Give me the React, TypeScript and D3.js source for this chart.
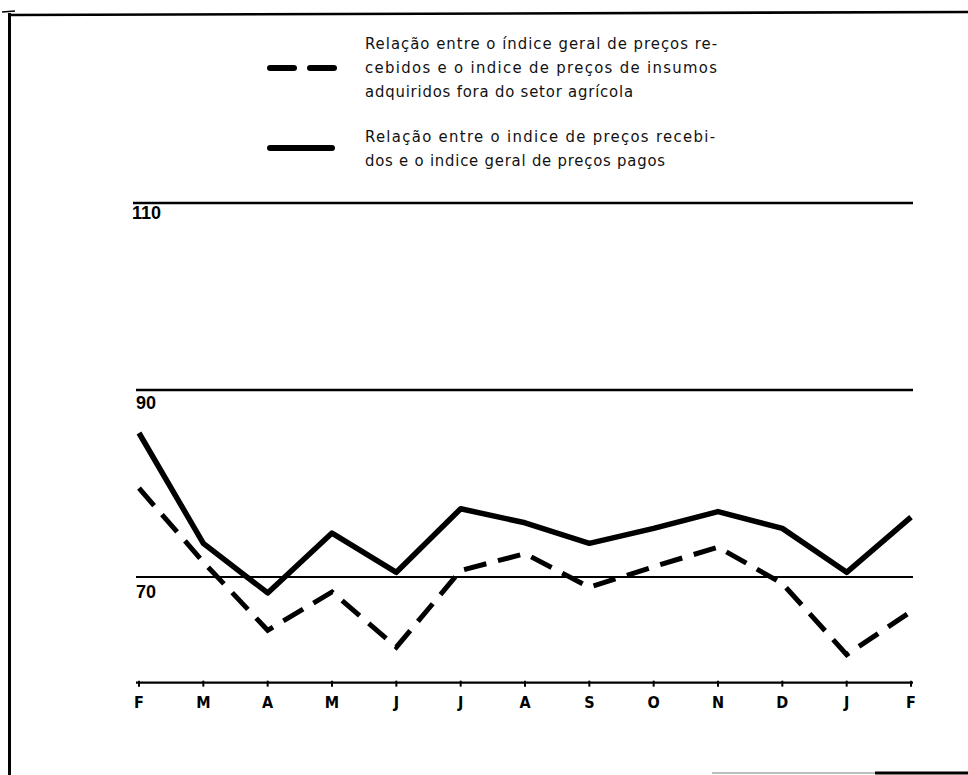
import * as d3 from "d3";

const months = ["F", "M", "A", "M", "J", "J", "A", "S", "O", "N", "D", "J", "F"];
// Relação índice de preços recebidos / índice geral de preços pagos (linha cheia)
const pagos = [85.4, 73.6, 68.3, 74.7, 70.5, 77.3, 75.8, 73.6, 75.2, 77.0, 75.2, 70.5, 76.4];
// Relação índice geral de preços recebidos / índice de preços de insumos (tracejada)
const insumos = [79.5, 71.6, 64.3, 68.4, 62.5, 70.7, 72.5, 68.9, 71.1, 73.2, 69.3, 61.7, 66.3];
const gridValues = [70, 90, 110];
const gridLabels = ["70", "90", "110"];

const legendDashed = [
  "Relação entre o índice geral de preços re-",
  "cebidos e o indice de preços de insumos",
  "adquiridos fora do setor agrícola",
];
const legendSolid = [
  "Relação entre o indice de preços recebi-",
  "dos e o indice geral de preços pagos",
];

const width = 968;
const height = 775;
const plotLeft = 136;
const plotRight = 913;
const axisFloor = 58.7;

const x = d3.scaleLinear().domain([0, months.length - 1]).range([139, 911]);
const y = d3.scaleLinear().domain([70, 110]).range([577, 203]);

const line = d3
  .line<number>()
  .x((_, i) => x(i))
  .y((d) => y(d));

const narrowFont = "'Liberation Sans Narrow', 'DejaVu Sans Condensed', sans-serif";

export default function App() {
  const axisY = y(axisFloor);
  return (
    <svg
      width={width}
      height={height}
      style={{ position: "absolute", left: 0, top: 0, background: "#fff" }}
    >
      {/* moldura */}
      <line x1={8} y1={15} x2={968} y2={12} stroke="#000" strokeWidth={2.6} />
      <line x1={2} y1={12} x2={15} y2={11} stroke="#000" strokeWidth={1.5} />
      <line x1={9.5} y1={13} x2={9.5} y2={775} stroke="#000" strokeWidth={3} />
      <line x1={712} y1={773} x2={875} y2={773} stroke="#aaa" strokeWidth={1.5} />
      <line x1={875} y1={773} x2={968} y2={773} stroke="#000" strokeWidth={3} />

      {/* legenda */}
      <g fill="#111" fontFamily={narrowFont} fontSize={16.5}>
        {legendDashed.map((t, i) => (
          <text
            key={t}
            x={365}
            y={49 + i * 24}
            textLength={i < 2 ? 352 : 268}
            lengthAdjust="spacing"
          >
            {t}
          </text>
        ))}
        {legendSolid.map((t, i) => (
          <text
            key={t}
            x={365}
            y={142 + i * 24}
            textLength={i < 1 ? 350 : 300}
            lengthAdjust="spacing"
          >
            {t}
          </text>
        ))}
      </g>
      <line x1={270} y1={68} x2={294} y2={68} stroke="#000" strokeWidth={6} strokeLinecap="round" />
      <line x1={310} y1={68} x2={334} y2={68} stroke="#000" strokeWidth={6} strokeLinecap="round" />
      <line x1={270} y1={148} x2={332} y2={148} stroke="#000" strokeWidth={6} strokeLinecap="round" />

      {/* grade */}
      {gridValues.map((v, i) => (
        <g key={v}>
          <line
            x1={plotLeft - (v === 110 ? 3 : 0)}
            x2={plotRight}
            y1={y(v)}
            y2={y(v)}
            stroke="#000"
            strokeWidth={v === 70 ? 2 : 2.6}
          />
          <text
            x={plotLeft - (v === 110 ? 4 : 0)}
            y={y(v) + (v === 70 ? 21 : v === 90 ? 19 : 16)}
            fontFamily="'Liberation Sans', Arial, sans-serif"
            fontWeight="bold"
            fontSize={18}
            fill="#000"
          >
            {gridLabels[i]}
          </text>
        </g>
      ))}

      {/* eixo */}
      <line x1={plotLeft} x2={plotRight} y1={axisY} y2={axisY} stroke="#000" strokeWidth={2.2} />
      {months.map((m, i) => (
        <g key={i}>
          <line x1={x(i)} x2={x(i)} y1={axisY - 2} y2={axisY + 4} stroke="#000" strokeWidth={2} />
          <text
            x={x(i)}
            y={axisY + 25}
            textAnchor="middle"
            fontFamily={narrowFont}
            fontWeight="bold"
            fontSize={16}
            fill="#000"
          >
            {m}
          </text>
        </g>
      ))}

      {/* séries */}
      <path
        d={line(insumos) ?? ""}
        fill="none"
        stroke="#000"
        strokeWidth={5}
        strokeDasharray="23 12"
      />
      <path
        d={line(pagos) ?? ""}
        fill="none"
        stroke="#000"
        strokeWidth={5.5}
        strokeLinejoin="round"
      />
    </svg>
  );
}
